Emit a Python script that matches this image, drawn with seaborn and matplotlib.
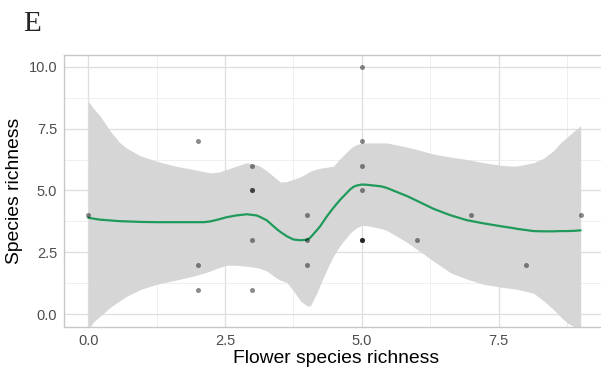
import matplotlib
matplotlib.use("Agg")
import matplotlib.pyplot as plt
import seaborn as sns
import pandas as pd
import numpy as np

# Observed plots: flower species richness vs. species richness
flower_richness = [0, 2, 2, 2, 3, 3, 3, 3, 3, 4, 4, 4, 5, 5, 5, 5, 5, 5, 5, 6, 7, 8, 9]
species_richness = [4, 7, 2, 1, 6, 5, 5, 3, 1, 4, 3, 2, 10, 7, 6, 5, 3, 3, 3, 3, 4, 2, 4]

# Smoothed trend with its confidence band
smooth_x = [0.0, 0.1, 0.22, 0.4, 0.58, 0.71, 0.95, 1.25, 1.6, 1.92, 2.11, 2.23, 2.38, 2.53,
            2.70, 2.90, 3.08, 3.14, 3.26, 3.45, 3.51, 3.63, 3.75, 3.88, 4.0, 4.06, 4.18,
            4.24, 4.36, 4.48, 4.61, 4.79, 4.85, 4.91, 5.0, 5.09, 5.34, 5.40, 5.46, 5.83,
            6.01, 6.31, 6.62, 6.92, 7.23, 7.53, 7.77, 7.84, 8.14, 8.32, 8.50, 8.63, 8.75,
            8.88, 9.0]
smooth_fit = [3.90, 3.86, 3.82, 3.79, 3.76, 3.75, 3.73, 3.72, 3.72, 3.72, 3.72, 3.75, 3.83,
              3.92, 3.99, 4.04, 3.99, 3.93, 3.80, 3.43, 3.33, 3.15, 3.02, 2.99, 3.01, 3.10,
              3.40, 3.56, 3.95, 4.30, 4.64, 5.05, 5.15, 5.20, 5.24, 5.23, 5.17, 5.14, 5.10,
              4.77, 4.58, 4.26, 4.00, 3.80, 3.67, 3.56, 3.48, 3.45, 3.36, 3.35, 3.35, 3.36,
              3.36, 3.37, 3.39]
smooth_low = [-0.60, -0.30, -0.07, 0.28, 0.55, 0.74, 1.00, 1.21, 1.38, 1.54, 1.66, 1.75,
              1.88, 1.98, 1.98, 1.94, 1.88, 1.85, 1.75, 1.45, 1.38, 1.28, 0.95, 0.54, 0.34,
              0.34, 0.87, 1.20, 1.80, 2.35, 2.80, 3.29, 3.40, 3.50, 3.59, 3.58, 3.47, 3.43,
              3.38, 2.90, 2.62, 2.15, 1.68, 1.42, 1.21, 1.10, 1.03, 1.01, 0.85, 0.55, 0.20,
              -0.10, -0.34, -0.50, -0.60]
smooth_high = [8.60, 8.30, 8.00, 7.40, 6.92, 6.70, 6.40, 6.18, 5.98, 5.85, 5.76, 5.71, 5.74,
               5.85, 5.98, 6.12, 6.03, 5.98, 5.80, 5.45, 5.34, 5.36, 5.45, 5.55, 5.70, 5.78,
               5.86, 5.90, 5.94, 5.98, 6.30, 6.70, 6.79, 6.86, 6.90, 6.92, 6.92, 6.92, 6.92,
               6.75, 6.65, 6.47, 6.35, 6.25, 6.12, 6.02, 5.98, 5.99, 6.12, 6.30, 6.60, 6.92,
               7.15, 7.40, 7.62]

x_ticks = [0.0, 2.5, 5.0, 7.5]
y_ticks = [0.0, 2.5, 5.0, 7.5, 10.0]

points = pd.DataFrame({"flower": flower_richness, "richness": species_richness})
trend = pd.DataFrame({"x": smooth_x, "fit": smooth_fit, "low": smooth_low, "high": smooth_high})

sns.set_theme(style="whitegrid")
plt.rcParams["font.family"] = ["Liberation Sans", "DejaVu Sans"]

fig = plt.figure(figsize=(6.01, 3.69), dpi=100)
W, H = 601, 369
ax = fig.add_axes([64 / W, (H - 327.3) / H, (608 - 64) / W, (327.3 - 55) / H])

ax.fill_between(trend["x"], trend["low"], trend["high"], color="#d6d6d6", lw=0, zorder=2)
sns.lineplot(data=trend, x="x", y="fit", ax=ax, color="#1f9a5a", lw=1.6, zorder=3)
sns.scatterplot(data=points, x="flower", y="richness", ax=ax, color="black", alpha=0.45,
                s=13, linewidth=0, zorder=4)

ax.set_xlim(-0.444, 9.50)
ax.set_ylim(-0.525, 10.47)
ax.set_xticks(x_ticks)
ax.set_yticks(y_ticks)
ax.set_xticklabels([f"{v:.1f}" for v in x_ticks])
ax.set_yticklabels([f"{v:.1f}" for v in y_ticks])
ax.set_xticks([1.25, 3.75, 6.25, 8.75], minor=True)
ax.set_yticks([1.25, 3.75, 6.25, 8.75], minor=True)

ax.grid(which="major", color="#dedede", lw=0.9)
ax.grid(which="minor", color="#ececec", lw=0.6)
ax.set_axisbelow(True)
for sp in ax.spines.values():
    sp.set_color("#c8c8c8")
    sp.set_linewidth(1.0)
ax.tick_params(axis="both", which="major", length=3, width=0.8, color="#c8c8c8",
               labelsize=10.5, labelcolor="#4d4d4d", pad=2)
ax.tick_params(axis="both", which="minor", length=0)

ax.set_xlabel("Flower species richness", fontsize=13.9, color="black", labelpad=1)
ax.set_ylabel("Species richness", fontsize=13.9, color="black", labelpad=4)

fig.text(23 / W, 1 - 24 / H, "E", family="Liberation Serif", fontsize=21, va="center", ha="left")

fig.savefig("out.png", dpi=100)
